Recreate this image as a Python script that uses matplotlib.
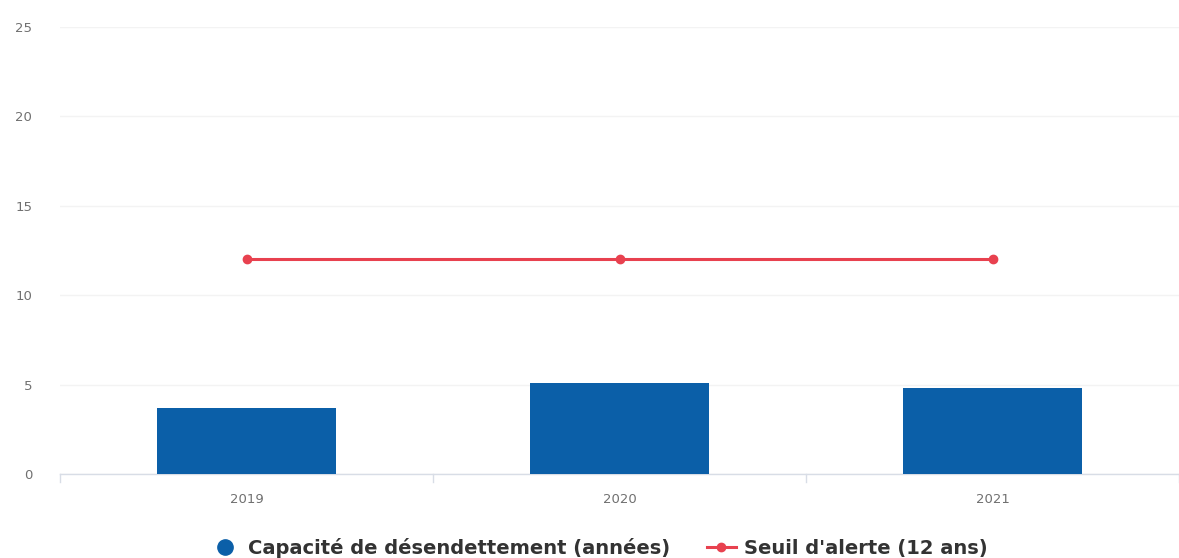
import matplotlib
matplotlib.use("Agg")
import matplotlib.pyplot as plt
from matplotlib.lines import Line2D

categories = ["2019", "2020", "2021"]
capacite = [3.7, 5.1, 4.8]
seuil = [12, 12, 12]
yticks = [0, 5, 10, 15, 20, 25]

bar_color = "#0b5fa8"
line_color = "#e8414f"

fig = plt.figure(figsize=(11.79, 5.58), dpi=100)
ax = fig.add_axes([0.051, 0.1505, 0.949, 0.801])

x = list(range(len(categories)))
ax.bar(x, capacite, width=0.48, color=bar_color, zorder=3)
ax.plot(x, seuil, color=line_color, linewidth=2.2, marker="o", markersize=6, zorder=4)

ax.set_xlim(-0.5, len(categories) - 0.5)
ax.set_ylim(0, 25)
ax.set_yticks(yticks)
ax.set_yticklabels([str(v) for v in yticks], fontsize=9.5, color="#707070")
ax.set_xticks(x)
ax.set_xticklabels(categories, fontsize=9.5, color="#707070")
ax.tick_params(axis="y", length=0, pad=20)
ax.tick_params(axis="x", length=0, pad=14)
for b in [-0.5, 0.5, 1.5, 2.5]:
    ax.plot([b, b], [0, -0.45], color="#d8dde6", linewidth=1, clip_on=False, zorder=2)

ax.grid(axis="y", color="#f3f3f3", linewidth=1, zorder=0)
for s in ["top", "right", "left"]:
    ax.spines[s].set_visible(False)
ax.spines["bottom"].set_color("#d8dde6")
ax.spines["bottom"].set_linewidth(1)

handles = [
    Line2D([], [], linestyle="none", marker="o", markersize=11, color=bar_color),
    Line2D([], [], color=line_color, linewidth=2.2, marker="o", markersize=6),
]
labels = ["Capacité de désendettement (années)", "Seuil d'alerte (12 ans)"]
leg = fig.legend(handles, labels, loc="center", bbox_to_anchor=(0.508, 0.018),
                 ncol=2, frameon=False, handlelength=1.5, columnspacing=1.9,
                 handletextpad=0.4,
                 prop={"family": "DejaVu Sans", "weight": "bold", "size": 14})
for t in leg.get_texts():
    t.set_color("#333333")

fig.savefig("out.png", dpi=100)
